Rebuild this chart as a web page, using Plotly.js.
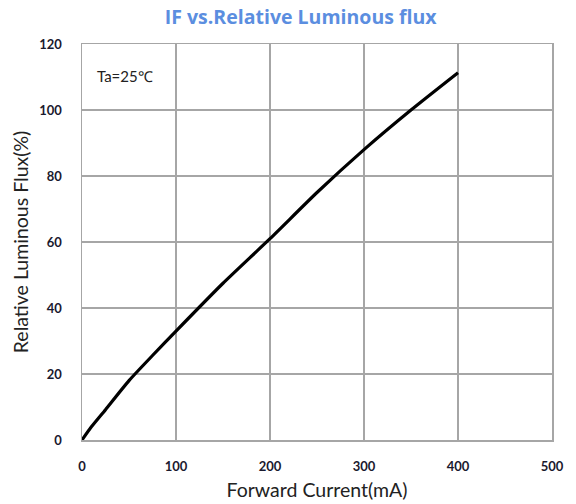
<!DOCTYPE html>
<html>
<head>
<meta charset="utf-8">
<script src="https://cdn.plot.ly/plotly-3.0.1.min.js"></script>
<style>html,body{margin:0;padding:0;background:#fff;}#chart{width:576px;height:504px;}</style>
</head>
<body>
<div id="chart"></div>
<script>
const currentMA = [0, 10, 25, 50, 75, 100, 150, 200, 250, 300, 350, 400];
const relFlux   = [0, 4, 9.2, 18, 25.6, 33, 47.5, 61, 75, 88, 100, 111.3];
const xTicks = [0, 100, 200, 300, 400, 500];
const yTicks = [0, 20, 40, 60, 80, 100, 120];

const font = "Lato, Liberation Sans, Arial, sans-serif";
const trace = {
  x: currentMA, y: relFlux, type: 'scatter', mode: 'lines',
  line: {color: '#000000', width: 3.2, shape: 'spline', smoothing: 0.6},
  hoverinfo: 'skip'
};
const layout = {
  width: 576, height: 504,
  margin: {l: 82, r: 24, t: 44, b: 64, pad: 0},
  paper_bgcolor: '#ffffff', plot_bgcolor: '#ffffff',
  showlegend: false,
  title: {text: '<b>IF vs.Relative Luminous flux</b>', x: 0.522, xanchor: 'center', y: 0.965, yanchor: 'middle',
          font: {family: "Open Sans, Lato, sans-serif", size: 19.5, color: '#5b8ee0'}},
  xaxis: {
    range: [0, 500], tickvals: xTicks, ticktext: xTicks.map(v => '<b>' + v + '</b>'),
    showgrid: true, gridcolor: '#a6a6a6', gridwidth: 1.5,
    showline: true, linecolor: '#a6a6a6', linewidth: 1.5, mirror: true,
    zeroline: false, ticks: 'outside', ticklen: 14, tickcolor: 'rgba(0,0,0,0)',
    tickfont: {family: font, size: 13, color: '#1a1a2e'},
    title: {text: 'Forward Current(mA)', standoff: 10, font: {family: font, size: 19.5, color: '#222222'}}
  },
  yaxis: {
    range: [0, 120], tickvals: yTicks, ticktext: yTicks.map(v => '<b>' + v + '</b>'),
    showgrid: true, gridcolor: '#a6a6a6', gridwidth: 1.5,
    showline: true, linecolor: '#a6a6a6', linewidth: 1.5, mirror: true,
    zeroline: false, ticks: 'outside', ticklen: 16, tickcolor: 'rgba(0,0,0,0)',
    tickfont: {family: font, size: 13, color: '#1a1a2e'},
    title: {text: 'Relative Luminous Flux(%)', standoff: 5, font: {family: font, size: 19.5, color: '#222222'}}
  },
  annotations: [{
    text: 'Ta=25℃', xref: 'paper', yref: 'paper', x: 0.028, y: 0.92, xanchor: 'left', yanchor: 'middle',
    showarrow: false, font: {family: font, size: 15, color: '#222222'}
  }]
};
Plotly.newPlot('chart', [trace], layout, {displayModeBar: false, staticPlot: true});
</script>
</body>
</html>
